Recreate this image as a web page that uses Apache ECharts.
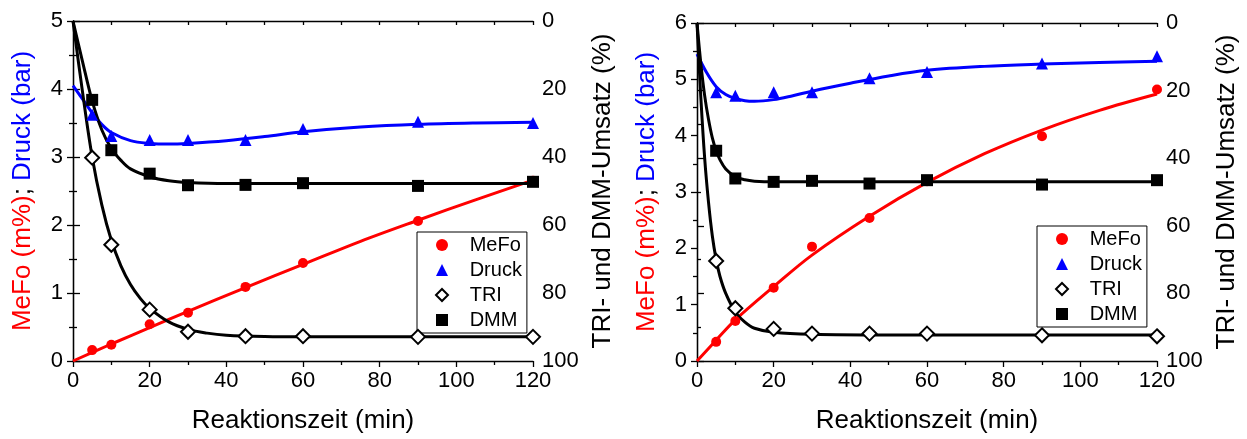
<!DOCTYPE html>
<html>
<head>
<meta charset="utf-8">
<script src="https://cdn.jsdelivr.net/npm/echarts@6/dist/echarts.min.js"></script>
<style>
  html, body { margin: 0; padding: 0; background: #fff; }
  #chart { width: 1247px; height: 439px; }
</style>
</head>
<body>
<div id="chart"></div>
<script>
// Sampling times of the measured points (min)
const tPoints = [5, 10, 20, 30, 45, 60, 90, 120];

// Left panel: measured values
const mefoLeft  = [0.16, 0.24, 0.54, 0.71, 1.09, 1.44, 2.06, 2.65];   // m%
const druckLeft = [3.62, 3.31, 3.25, 3.25, 3.25, 3.41, 3.52, 3.50];   // bar
const triLeft   = [40.2, 65.8, 84.9, 91.4, 92.7, 92.7, 92.9, 92.9];   // % Umsatz
const dmmLeft   = [23.2, 38.0, 44.9, 48.3, 48.2, 47.7, 48.5, 47.3];   // % Umsatz

// Left panel: fitted curves (time, value)
const mefoFitTLeft  = [0, 10, 20, 30, 45, 60, 75, 90, 105, 120];
const mefoFitLeft   = [0, 0.25, 0.49, 0.73, 1.08, 1.42, 1.76, 2.07, 2.37, 2.66];
const druckFitTLeft = [0, 2.5, 5, 7.5, 10, 15, 20, 25, 30, 40, 50, 60, 75, 90, 105, 120];
const druckFitLeft  = [4.05, 3.85, 3.65, 3.48, 3.36, 3.24, 3.20, 3.19, 3.20, 3.24, 3.30, 3.37, 3.44, 3.48, 3.50, 3.51];
const triFitTLeft   = [0, 2.5, 5, 7.5, 10, 12.5, 15, 17.5, 20, 25, 30, 35, 40, 50, 60, 120];
const triFitLeft    = [0, 21, 40, 54, 64.5, 72, 77.5, 81.5, 84.5, 88.5, 90.7, 91.8, 92.4, 92.8, 92.9, 92.9];
const dmmFitTLeft   = [0, 2.5, 5, 7.5, 10, 12.5, 15, 20, 25, 30, 40, 60, 90, 120];
const dmmFitLeft    = [0, 12, 23.5, 32, 37.5, 41, 43.5, 45.8, 47, 47.5, 47.8, 47.8, 47.8, 47.8];

// Right panel: measured values
const mefoRight  = [0.34, 0.71, 1.30, 2.03, 2.54, 3.19, 3.99, 4.82];
const druckRight = [4.77, 4.71, 4.77, 4.77, 5.02, 5.13, 5.28, 5.41];
const triRight   = [70.4, 84.4, 90.5, 91.9, 91.9, 91.9, 92.4, 92.7];
const dmmRight   = [37.8, 46.0, 47.0, 46.7, 47.5, 46.5, 47.8, 46.5];

// Right panel: fitted curves (time, value)
const mefoFitTRight  = [0, 5, 10, 20, 30, 45, 60, 75, 90, 105, 120];
const mefoFitRight   = [0, 0.37, 0.73, 1.32, 1.88, 2.57, 3.17, 3.68, 4.10, 4.45, 4.74];
const druckFitTRight = [0, 2.5, 5, 7.5, 10, 12.5, 15, 20, 25, 30, 40, 50, 60, 75, 90, 105, 120];
const druckFitRight  = [5.45, 5.12, 4.87, 4.73, 4.66, 4.62, 4.61, 4.64, 4.71, 4.79, 4.93, 5.06, 5.16, 5.23, 5.27, 5.30, 5.32];
const triFitTRight   = [0, 1, 2, 3, 4, 5, 6, 7.5, 10, 12.5, 15, 20, 30, 50, 120];
const triFitRight    = [0, 22, 40, 53, 63, 70, 75, 80, 85.5, 88.5, 90.3, 91.5, 92.1, 92.3, 92.3];
const dmmFitTRight   = [0, 1, 2, 3, 4, 5, 6, 7.5, 10, 12.5, 15, 20, 30, 60, 120];
const dmmFitRight    = [0, 12, 21.5, 28.5, 34, 37.8, 40.5, 43.2, 45.5, 46.4, 46.8, 47, 47, 47, 47];

// Axis settings
const timeMax = 120, timeStep = 20;
const leftMaxA = 5, leftMaxB = 6;
const convMax = 100, convStep = 20;

const legendNames = ['MeFo', 'Druck', 'TRI', 'DMM'];

const FONT = "'Liberation Sans', Arial, sans-serif";
const RED = '#ff0000', BLUE = '#0000ff', BLACK = '#000000';

const pairs = (xs, ys) => xs.map((x, i) => [x, ys[i]]);

const axisLine = { show: true, lineStyle: { color: BLACK, width: 1.3 } };
const tickLabel = { color: BLACK, fontSize: 22, fontFamily: FONT };

function bottomAxis(grid) {
  return {
    type: 'value', gridIndex: grid, position: 'bottom',
    min: 0, max: timeMax, interval: timeStep,
    name: 'Reaktionszeit (min)', nameLocation: 'middle', nameGap: 47,
    nameTextStyle: { color: BLACK, fontSize: 26, fontFamily: FONT },
    axisLine: axisLine,
    axisTick: { show: true, inside: false, length: 6, lineStyle: { color: BLACK, width: 1.3 } },
    minorTick: { show: true, splitNumber: 2, length: 4, lineStyle: { color: BLACK, width: 1.3 } },
    axisLabel: Object.assign({ margin: 9 }, tickLabel),
    splitLine: { show: false }
  };
}
function topAxis(grid) {
  return {
    type: 'value', gridIndex: grid, position: 'top',
    min: 0, max: timeMax, interval: 10,
    axisLine: axisLine,
    axisTick: { show: true, inside: true, length: 4, lineStyle: { color: BLACK, width: 1.3 } },
    axisLabel: { show: false },
    splitLine: { show: false }
  };
}
function leftAxis(grid, max) {
  return {
    type: 'value', gridIndex: grid, position: 'left',
    min: 0, max: max, interval: 1,
    name: '{r|MeFo (m%)}{k|; }{b|Druck (bar)}',
    nameLocation: 'middle', nameGap: 37,
    nameTextStyle: {
      fontSize: 26, fontFamily: FONT,
      rich: {
        r: { color: RED, fontSize: 26, fontFamily: FONT },
        k: { color: BLACK, fontSize: 26, fontFamily: FONT },
        b: { color: BLUE, fontSize: 26, fontFamily: FONT }
      }
    },
    axisLine: axisLine,
    axisTick: { show: true, inside: false, length: 6, lineStyle: { color: BLACK, width: 1.3 } },
    minorTick: { show: true, splitNumber: 2, length: 4, lineStyle: { color: BLACK, width: 1.3 } },
    axisLabel: Object.assign({ margin: 10 }, tickLabel),
    splitLine: { show: false }
  };
}
function rightAxis(grid) {
  return {
    type: 'value', gridIndex: grid, position: 'right', inverse: true,
    min: 0, max: convMax, interval: convStep,
    name: 'TRI- und DMM-Umsatz (%)', nameLocation: 'middle', nameGap: 57,
    nameTextStyle: { color: BLACK, fontSize: 26, fontFamily: FONT },
    axisLine: axisLine,
    axisTick: { show: true, inside: false, length: 7, lineStyle: { color: BLACK, width: 1.3 } },
    minorTick: { show: true, splitNumber: 2, length: 4, lineStyle: { color: BLACK, width: 1.3 } },
    axisLabel: Object.assign({ margin: 9 }, tickLabel),
    splitLine: { show: false }
  };
}

const markerStyles = {
  MeFo:  { symbol: 'circle',   symbolSize: 10, itemStyle: { color: RED, opacity: 1 } },
  Druck: { symbol: 'triangle', symbolSize: 12, itemStyle: { color: BLUE, opacity: 1 } },
  TRI:   { symbol: 'diamond',  symbolSize: 14, itemStyle: { color: '#ffffff', borderColor: BLACK, borderWidth: 2, opacity: 1 } },
  DMM:   { symbol: 'rect',     symbolSize: 12, itemStyle: { color: BLACK, opacity: 1 } }
};
const fitColors = { MeFo: RED, Druck: BLUE, TRI: BLACK, DMM: BLACK };

function pointSeries(name, xi, yi, values) {
  const s = markerStyles[name];
  return {
    name: name, type: 'scatter', xAxisIndex: xi, yAxisIndex: yi,
    symbol: s.symbol, symbolSize: s.symbolSize, itemStyle: s.itemStyle,
    data: pairs(tPoints, values), z: 5, clip: false
  };
}
function fitSeries(name, xi, yi, ts, vs) {
  return {
    name: name + ' Fit', type: 'line', xAxisIndex: xi, yAxisIndex: yi,
    data: pairs(ts, vs), smooth: 0.35, showSymbol: false, symbol: 'none',
    lineStyle: { color: fitColors[name], width: 3 }, z: 3, silent: true
  };
}

function legendBox(left, top) {
  return {
    orient: 'vertical', left: left, top: top,
    data: legendNames,
    itemWidth: 12, itemHeight: 12, itemGap: 5,
    padding: [3, 5, 3, 18],
    borderColor: BLACK, borderWidth: 1, backgroundColor: '#ffffff',
    // leading spaces push the label clear of the marker column
    formatter: name => '   ' + name,
    textStyle: { color: BLACK, fontSize: 20, fontFamily: FONT },
    selectedMode: false
  };
}

const option = {
  backgroundColor: '#ffffff',
  animation: false,
  grid: [
    { left: 73, top: 21, width: 460, height: 342 },
    { left: 697, top: 23, width: 460, height: 342 }
  ],
  xAxis: [bottomAxis(0), topAxis(0), bottomAxis(1), topAxis(1)],
  yAxis: [leftAxis(0, leftMaxA), rightAxis(0), leftAxis(1, leftMaxB), rightAxis(1)],
  legend: [legendBox(417, 232), legendBox(1037, 226)],
  series: [
    fitSeries('MeFo', 0, 0, mefoFitTLeft, mefoFitLeft),
    fitSeries('Druck', 0, 0, druckFitTLeft, druckFitLeft),
    fitSeries('TRI', 0, 1, triFitTLeft, triFitLeft),
    fitSeries('DMM', 0, 1, dmmFitTLeft, dmmFitLeft),
    pointSeries('MeFo', 0, 0, mefoLeft),
    pointSeries('Druck', 0, 0, druckLeft),
    pointSeries('TRI', 0, 1, triLeft),
    pointSeries('DMM', 0, 1, dmmLeft),

    fitSeries('MeFo', 2, 2, mefoFitTRight, mefoFitRight),
    fitSeries('Druck', 2, 2, druckFitTRight, druckFitRight),
    fitSeries('TRI', 2, 3, triFitTRight, triFitRight),
    fitSeries('DMM', 2, 3, dmmFitTRight, dmmFitRight),
    pointSeries('MeFo', 2, 2, mefoRight),
    pointSeries('Druck', 2, 2, druckRight),
    pointSeries('TRI', 2, 3, triRight),
    pointSeries('DMM', 2, 3, dmmRight)
  ]
};

const chart = echarts.init(document.getElementById('chart'), null, { renderer: 'canvas' });
chart.setOption(option);
</script>
</body>
</html>
